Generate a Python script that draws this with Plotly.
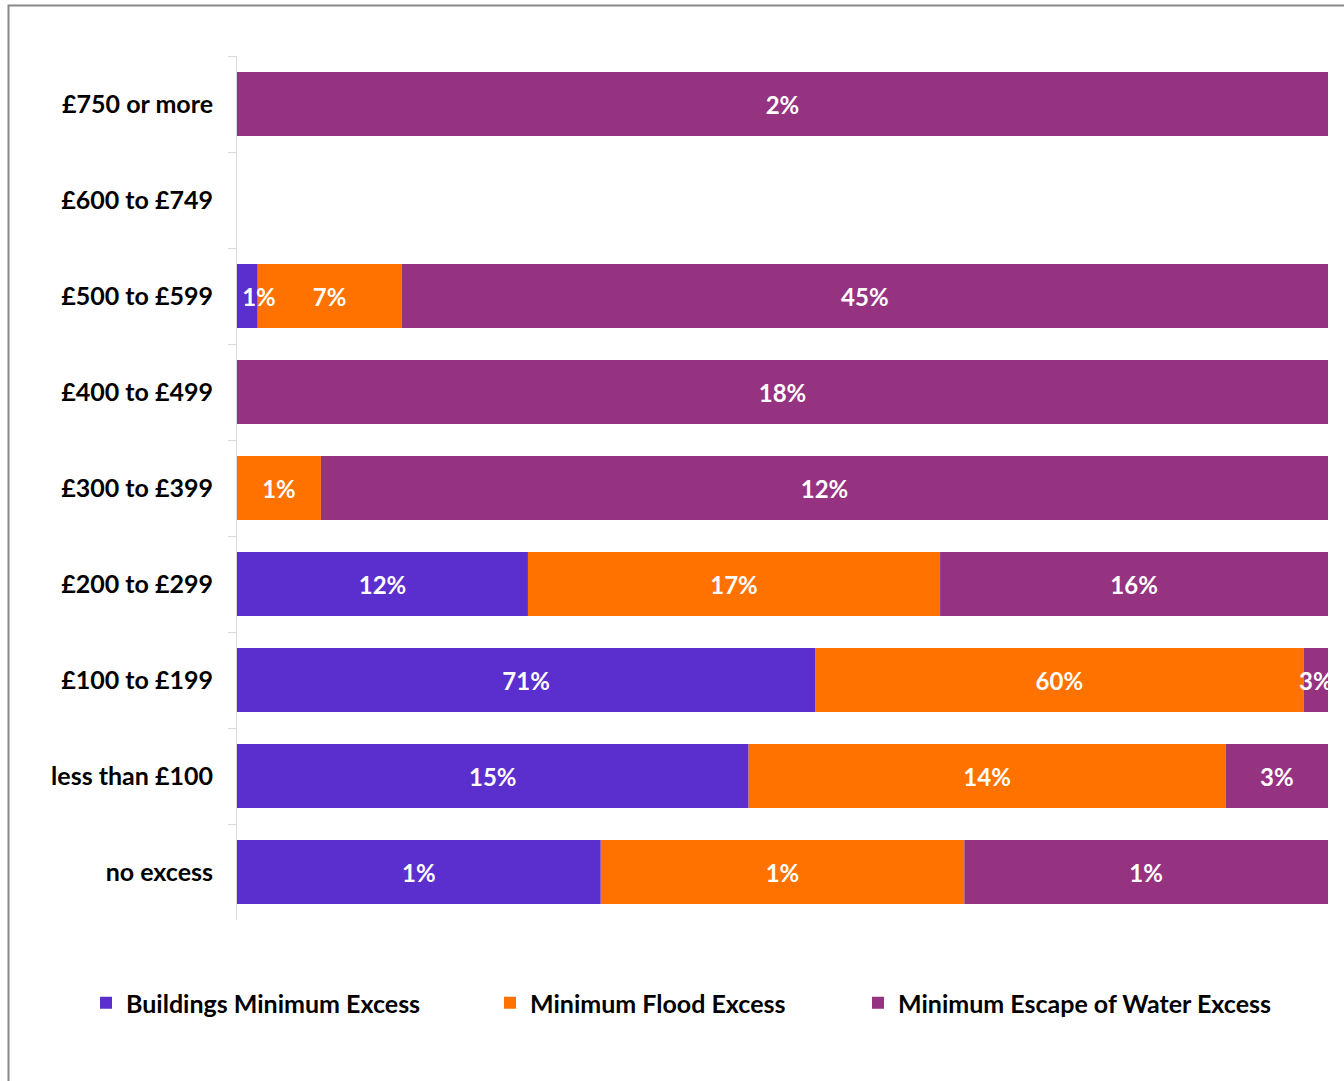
import plotly.graph_objects as go

categories = ["£750 or more", "£600 to £749", "£500 to £599", "£400 to £499",
              "£300 to £399", "£200 to £299", "£100 to £199", "less than £100", "no excess"]
buildings = [0, 0, 1, 0, 0, 12, 71, 15, 1]
flood = [0, 0, 7, 0, 1, 17, 60, 14, 1]
escape = [2, 0, 45, 18, 12, 16, 3, 3, 1]

names = ["Buildings Minimum Excess", "Minimum Flood Excess", "Minimum Escape of Water Excess"]
colors = ["#5B2ECE", "#FF7200", "#953381"]
legends = ["legend", "legend2", "legend3"]
values = [buildings, flood, escape]

# 100% stacked: each row normalised to its own total
totals = [b + f + e for b, f, e in zip(buildings, flood, escape)]
shares = [[(v / t * 100 if t else 0) for v, t in zip(vals, totals)] for vals in values]
bases = []
run = [0.0] * len(categories)
for sh in shares:
    bases.append(list(run))
    run = [r + s for r, s in zip(run, sh)]

W, H = 1344, 1081
L, R, T, B = 237, 16, 56, 161
pw, ph = W - L - R, H - T - B

def px_x(x):
    return (x - L) / pw

def px_y(y):
    return (H - B - y) / ph

def label(v, tot, first):
    if not v:
        return ""
    s = f"{v}%"
    if first and tot and v / tot < 0.03:
        s = "\u00a0" * 4 + s
    return s

FONT = "Lato"
fig = go.Figure()
# draw order: flood, escape, then buildings on top (so its narrow label overlaps neighbours)
for i in [1, 2, 0]:
    fig.add_trace(go.Bar(
        y=categories, x=shares[i], base=bases[i], name=names[i], orientation="h",
        marker=dict(color=colors[i], line=dict(width=0)),
        text=[label(v, t, i == 0) for v, t in zip(values[i], totals)],
        textposition="inside", insidetextanchor="middle",
        constraintext="none", textangle=0,
        textfont=dict(family=FONT, size=24, color="white", weight="bold"),
        legend=legends[i], hoverinfo="skip", cliponaxis=True,
    ))

legend_common = dict(orientation="h", yanchor="middle", xanchor="left",
                     font=dict(family=FONT, size=25, color="black", weight="bold"),
                     bgcolor="rgba(0,0,0,0)", borderwidth=0)
ly = px_y(1003)
fig.update_layout(
    width=W, height=H,
    margin=dict(l=L, r=R, t=T, b=B, pad=0),
    barmode="overlay", bargap=1/3,
    paper_bgcolor="white", plot_bgcolor="white",
    showlegend=True,
    legend=dict(x=px_x(86), y=ly, **legend_common),
    legend2=dict(x=px_x(490), y=ly, **legend_common),
    legend3=dict(x=px_x(858), y=ly, **legend_common),
    xaxis=dict(range=[0, 100], visible=False, showgrid=False, zeroline=False, fixedrange=True),
    yaxis=dict(type="category", categoryorder="array", categoryarray=categories,
               autorange="reversed", showgrid=False, zeroline=False,
               showline=True, linecolor="#D9D9D9", linewidth=1,
               ticks="outside", tickson="boundaries", ticklen=8, tickcolor="#D9D9D9",
               ticklabelstandoff=18, fixedrange=True,
               tickfont=dict(family=FONT, size=25, color="black", weight="bold")),
    shapes=[dict(type="rect", xref="paper", yref="paper",
                 x0=px_x(8.5), x1=px_x(1360), y0=px_y(1095), y1=px_y(5.5),
                 line=dict(color="#888888", width=2), fillcolor="rgba(0,0,0,0)", layer="below")],
)
fig.write_html("out.html", config={"displayModeBar": False},
               post_script="document.body.style.margin='0';")
